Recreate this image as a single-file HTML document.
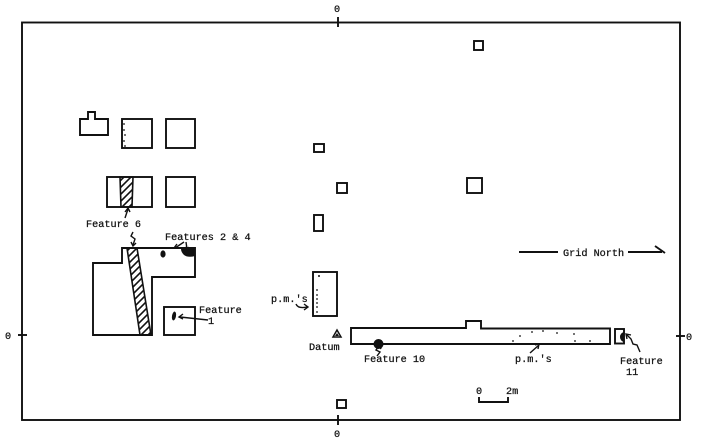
<!DOCTYPE html>
<html><head><meta charset="utf-8"><style>
html,body{margin:0;padding:0;background:#fff;}
svg{display:block;}
text{font-family:"Liberation Mono",monospace;font-size:10.2px;fill:#111;stroke:#111;stroke-width:0.25px;}
</style></head><body>
<svg width="701" height="441" viewBox="0 0 701 441" xmlns="http://www.w3.org/2000/svg">
<defs>
<pattern id="hatch" patternUnits="userSpaceOnUse" width="7" height="7">
<path d="M-1,8 L8,-1 M-4,4 L4,-4 M3,11 L11,3" stroke="#111" stroke-width="1.6" fill="none"/>
</pattern>
</defs>
<g fill="none" stroke="#111" stroke-width="1.9">
<!-- border -->
<rect x="22" y="22.5" width="658" height="397.5"/>
<!-- ticks -->
<line x1="338" y1="17" x2="338" y2="27"/>
<line x1="338" y1="415" x2="338" y2="425"/>
<line x1="18" y1="335" x2="27" y2="335"/>
<line x1="676" y1="336" x2="685" y2="336"/>

<!-- small shape with bump -->
<path d="M80,119 H88 V112 H95 V119 H108 V135 H80 Z"/>
<rect x="122" y="119" width="30" height="29"/>
<rect x="166" y="119" width="29" height="29"/>
<rect x="107" y="177" width="45" height="30"/>
<rect x="166" y="177" width="29" height="30"/>

<!-- big shape -->
<path d="M122,248 H195 V277 H152 V335 H93 V263 H122 Z"/>
<rect x="164" y="307" width="31" height="28"/>

<!-- center small squares -->
<rect x="474" y="41" width="9" height="9"/>
<rect x="314" y="144" width="10" height="8"/>
<rect x="337" y="183" width="10" height="10"/>
<rect x="467" y="178" width="15" height="15"/>
<rect x="314" y="215" width="9" height="16"/>
<rect x="313" y="272" width="24" height="44"/>
<rect x="337" y="400" width="9" height="8"/>

<!-- long rect -->
<path d="M351,328 H466 V321 H481 V328.5 H610 V344 H351 Z"/>
<rect x="615" y="329" width="9" height="14.5"/>

<!-- grid north -->
<line x1="519" y1="252" x2="558" y2="252"/>
<line x1="628" y1="252" x2="662" y2="252"/>
<line x1="655" y1="246" x2="665" y2="253"/>

<!-- scale bar -->
<path d="M479,397 V402 H508 V397"/>
</g>

<!-- hatched strips -->
<polygon points="120,177 133,177 132,207 121,207" fill="url(#hatch)" stroke="#111" stroke-width="1.6"/>
<polygon points="127,248 137,248 151,335 140,335" fill="url(#hatch)" stroke="#111" stroke-width="1.6"/>

<!-- dots in square1 left edge -->
<g fill="#111">
<circle cx="124" cy="124" r="0.9"/><circle cx="124" cy="130" r="0.9"/><circle cx="125" cy="135" r="0.9"/><circle cx="124" cy="141" r="0.9"/><circle cx="125" cy="146" r="0.9"/>
</g>

<!-- features blobs -->
<g fill="#111">
<ellipse cx="163" cy="254" rx="2.6" ry="3.6"/>
<path d="M181,249 H195 V256 Q188,258 184,255 Q181,252 181,249 Z"/>
<ellipse cx="174" cy="316" rx="2" ry="4.5" transform="rotate(10 174 316)"/>
<circle cx="378.5" cy="344" r="5"/>
<path d="M624,332 A5,5 0 0 0 620,337 A5,5 0 0 0 624,342 Z"/>
<!-- p.m. dots -->
<circle cx="319" cy="276" r="1"/><circle cx="317" cy="290" r="0.9"/><circle cx="317" cy="295" r="0.9"/><circle cx="317" cy="299" r="0.9"/><circle cx="317" cy="303" r="0.9"/><circle cx="317" cy="307" r="0.9"/><circle cx="317" cy="312" r="0.9"/>
<circle cx="520" cy="336" r="0.9"/><circle cx="532" cy="332" r="0.9"/><circle cx="543" cy="331" r="0.9"/><circle cx="557" cy="333" r="0.9"/><circle cx="574" cy="334" r="0.9"/><circle cx="513" cy="341" r="0.9"/><circle cx="575" cy="341" r="0.9"/><circle cx="590" cy="341" r="0.9"/>
</g>

<!-- datum triangle -->
<polygon points="337,330 341,337 333,337" fill="none" stroke="#111" stroke-width="1.5"/>
<polygon points="337,333 339,336 335,336" fill="#111"/>

<!-- arrows -->
<g fill="none" stroke="#111" stroke-width="1.4">
<path d="M125,218 L128,209"/>
<path d="M125,212 L128,208 L130,212"/>
<path d="M133,232 L131,236 L135,239 L133,245"/>
<path d="M131,242 L133,246 L136,243"/>
<path d="M184,242 L175,248"/>
<path d="M177,244 L174,248 L179,248"/>
<path d="M186,242 L187,249"/>
<path d="M185,247 L187,250 L189,247"/>
<path d="M208,320 L180,317"/>
<path d="M183,314 L179,317 L183,319"/>
<path d="M296,304 Q298,309 307,307"/>
<path d="M304,304 L308,307 L304,310"/>
<path d="M377,356 L380,352 L376,350 L379,346"/>
<path d="M376,348 L379,345 L381,349"/>
<path d="M530,353 L539,345"/>
<path d="M535,345 L539,344 L538,349"/>
<path d="M640,352 L637,345 L633,344 L631,339 L627,335"/>
<path d="M627,339 L626,334 L631,335"/>
</g>

<!-- labels -->
<text x="334" y="12">0</text>
<text x="334" y="437">0</text>
<text x="5" y="339">0</text>
<text x="686" y="340">0</text>
<text x="86" y="227">Feature 6</text>
<text x="165" y="240">Features 2 &amp; 4</text>
<text x="199" y="313">Feature</text>
<text x="208" y="324">1</text>
<text x="271" y="302">p.m.'s</text>
<text x="309" y="350">Datum</text>
<text x="364" y="362">Feature 10</text>
<text x="515" y="362">p.m.'s</text>
<text x="620" y="364">Feature</text>
<text x="626" y="375">11</text>
<text x="563" y="256">Grid North</text>
<text x="476" y="394">0</text>
<text x="506" y="394">2m</text>
</svg>
</body></html>
